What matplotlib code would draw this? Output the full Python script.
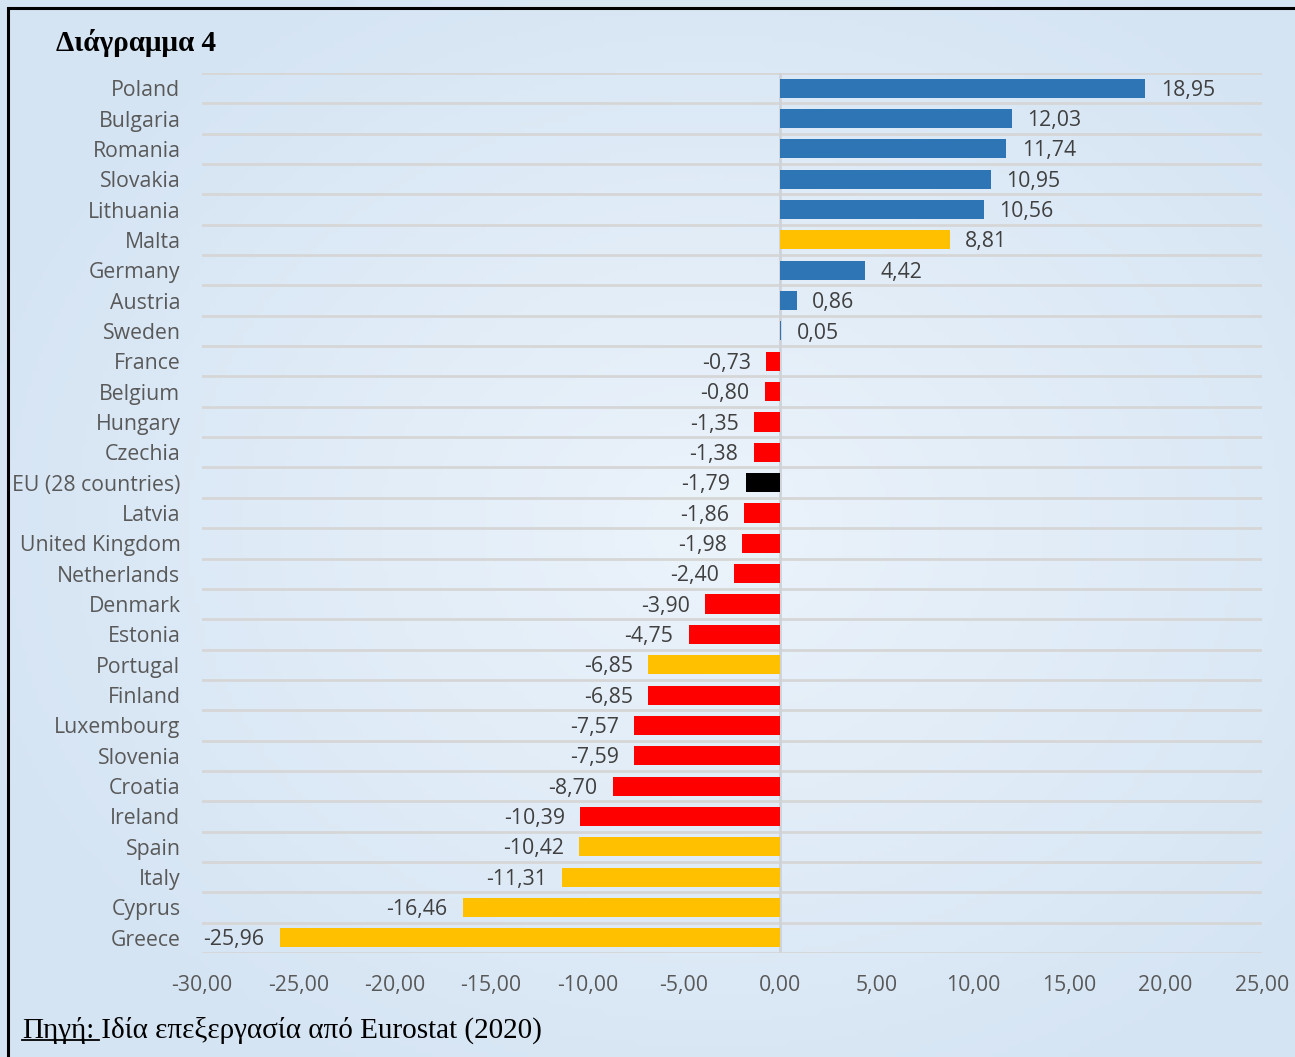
import numpy as np
import matplotlib.pyplot as plt

# data, top to bottom as in the original chart
countries = ["Poland", "Bulgaria", "Romania", "Slovakia", "Lithuania", "Malta",
             "Germany", "Austria", "Sweden", "France", "Belgium", "Hungary",
             "Czechia", "EU (28 countries)", "Latvia", "United Kingdom",
             "Netherlands", "Denmark", "Estonia", "Portugal", "Finland",
             "Luxembourg", "Slovenia", "Croatia", "Ireland", "Spain", "Italy",
             "Cyprus", "Greece"]
values = [18.95, 12.03, 11.74, 10.95, 10.56, 8.81, 4.42, 0.86, 0.05, -0.73,
          -0.80, -1.35, -1.38, -1.79, -1.86, -1.98, -2.40, -3.90, -4.75, -6.85,
          -6.85, -7.57, -7.59, -8.70, -10.39, -10.42, -11.31, -16.46, -25.96]
groups = ["up", "up", "up", "up", "up", "south", "up", "up", "up", "down",
          "down", "down", "down", "eu", "down", "down", "down", "down", "down",
          "south", "down", "down", "down", "down", "down", "south", "south",
          "south", "south"]
x_ticks = [-30, -25, -20, -15, -10, -5, 0, 5, 10, 15, 20, 25]

group_colors = {"up": "#2E75B6", "down": "#FF0000", "south": "#FFC000", "eu": "#000000"}

W, H = 1295, 1057
FS = 15.3
fig = plt.figure(figsize=(W / 100, H / 100), dpi=100)


def fmt(v):
    return f"{v:.2f}".replace(".", ",")


# background gradient (light blue, lighter in the middle)
bg = fig.add_axes([0, 0, 1, 1], zorder=0)
yy, xx = np.mgrid[0:1:200j, 0:1:240j]
d = np.sqrt(((xx - 0.55) / 0.8) ** 2 + ((yy - 0.5) / 0.8) ** 2)
d = np.clip(d / 0.75, 0, 1)
c_in = np.array([0.925, 0.955, 0.985])
c_out = np.array([0.835, 0.895, 0.955])
img = c_in[None, None, :] * (1 - d[..., None]) + c_out[None, None, :] * d[..., None]
bg.imshow(img, extent=[0, 1, 0, 1], aspect="auto", origin="lower")
bg.set_xlim(0, 1)
bg.set_ylim(0, 1)
bg.axis("off")
# frame
bg.add_patch(plt.Rectangle((8 / W, -0.01), 1.02, 1 - 8 / H + 0.01, fill=False,
                           edgecolor="black", linewidth=2.2, transform=bg.transAxes))

ax = fig.add_axes([202 / W, 1 - 953 / H, 1060 / W, 880 / H], zorder=1)
ax.patch.set_alpha(0)

n = len(countries)
y = np.arange(n)
colors = [group_colors[g] for g in groups]
ax.barh(y, values, height=0.63, color=colors, edgecolor="none", zorder=3)

ax.set_ylim(n - 0.5, -0.5)
ax.set_xlim(-30, 25)

# horizontal grid lines between categories
for b in np.arange(-0.5, n, 1.0):
    ax.axhline(b, color="#d6d6d6", linewidth=2, zorder=1)
ax.axvline(0, color="#cfd3d8", linewidth=2, zorder=2)

for i, v in enumerate(values):
    if v >= 0:
        ax.annotate(fmt(v), (v, i), xytext=(11, -1.5), textcoords="offset points",
                    va="center", ha="left", fontsize=FS, color="#404040",
                    family="Open Sans")
    else:
        ax.annotate(fmt(v), (v, i), xytext=(-11, -1.5), textcoords="offset points",
                    va="center", ha="right", fontsize=FS, color="#404040",
                    family="Open Sans")

ax.set_yticks(y)
ax.set_yticklabels(countries, family="Open Sans", fontsize=FS, color="#595959")
ax.set_xticks(x_ticks)
ax.set_xticklabels([fmt(t) for t in x_ticks], family="Open Sans", fontsize=FS,
                   color="#595959")
ax.tick_params(axis="y", length=0, pad=15.5)
ax.tick_params(axis="x", length=0, pad=15.5)
for s in ax.spines.values():
    s.set_visible(False)

# title and source
fig.text(56 / W, 1 - 43 / H, "Διάγραμμα 4", family="Liberation Serif",
         fontweight="bold", fontsize=21, va="center", ha="left")
src1 = fig.text(22 / W, 1 - 1030 / H, "Πηγή:", family="Liberation Serif",
                fontsize=21, va="center", ha="left")
fig.canvas.draw()
r = fig.canvas.get_renderer()
bb = src1.get_window_extent(r)
fig.text(bb.x1 / W, 1 - 1030 / H, " Ιδία επεξεργασία από Eurostat (2020)",
         family="Liberation Serif", fontsize=21, va="center", ha="left")
uy = (bb.y0 + 4) / H
fig.add_artist(plt.Line2D([bb.x0 / W, (bb.x1 + 5) / W], [uy, uy], color="black",
                          linewidth=1.3))

fig.savefig("out.png", dpi=100)
